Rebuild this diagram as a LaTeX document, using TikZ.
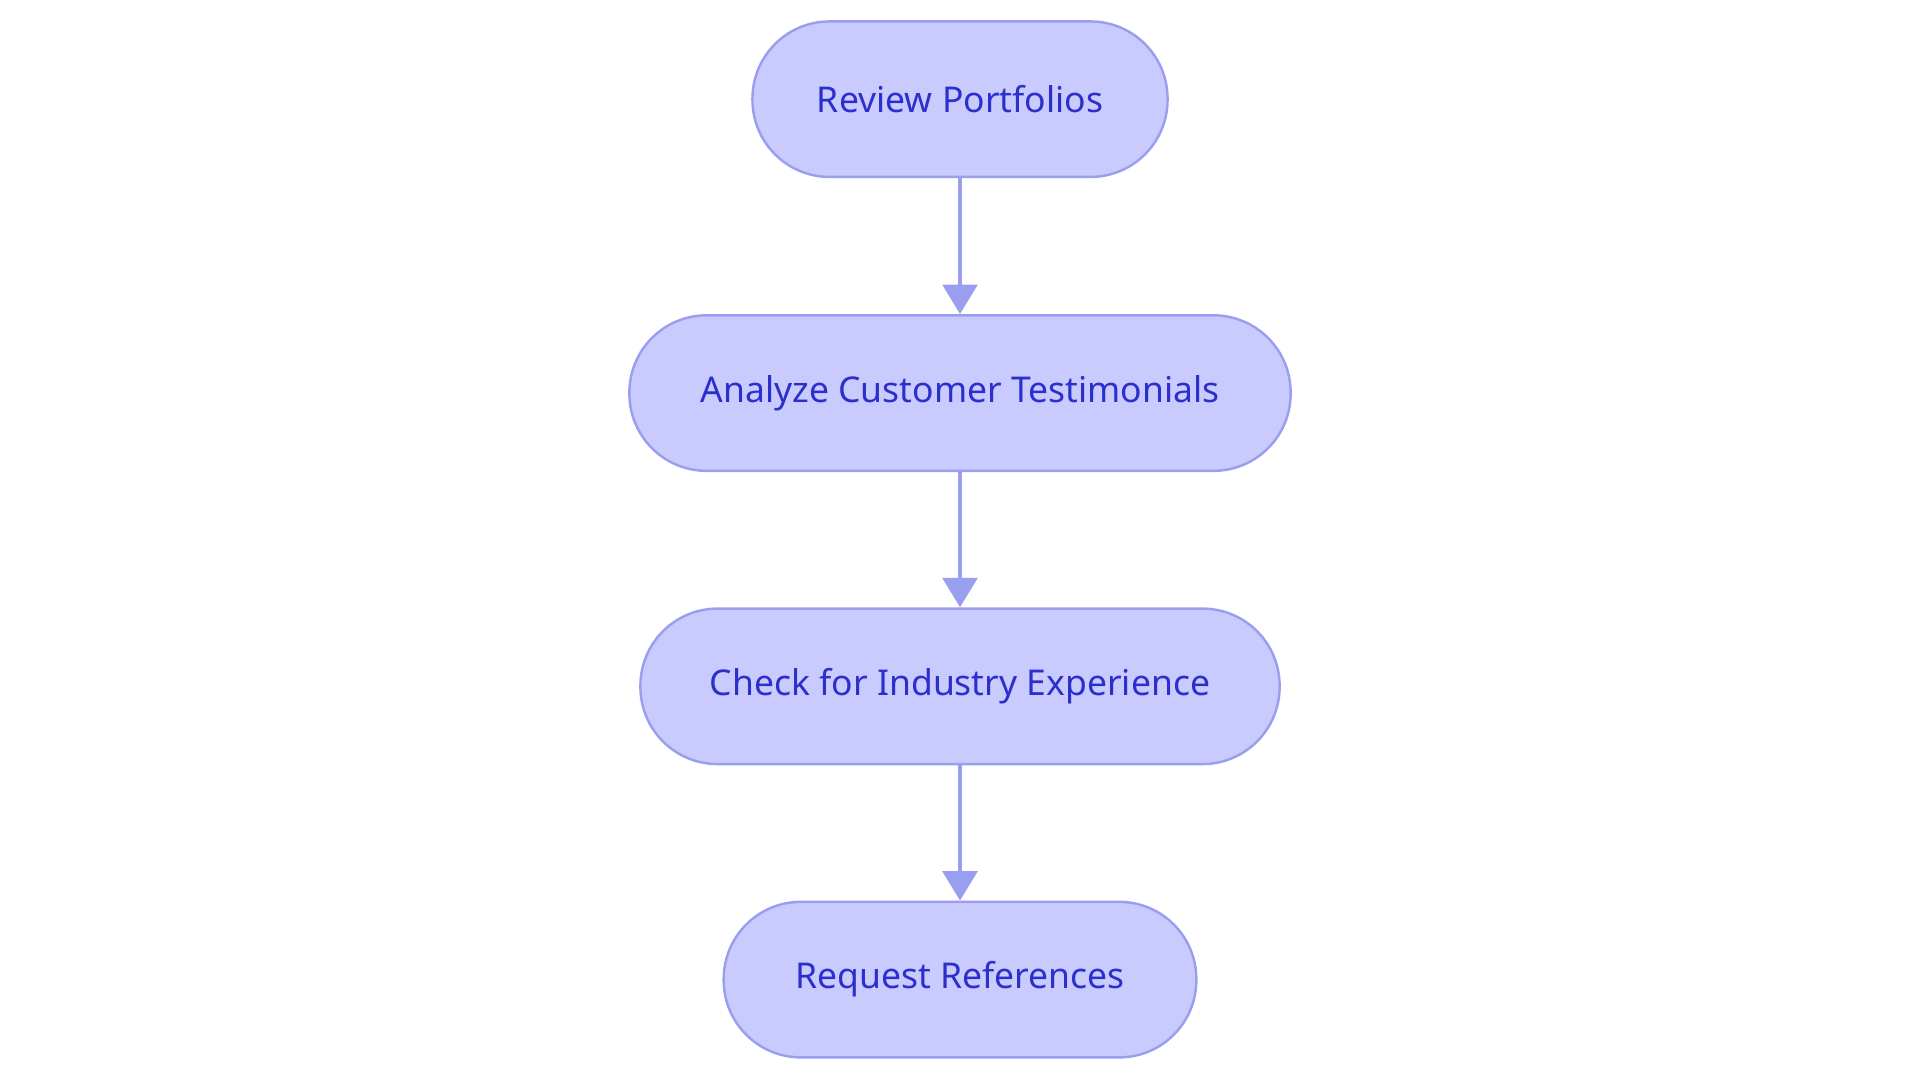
\documentclass[tikz,border=0pt]{standalone}
\usepackage{fontspec}
\setmainfont{Noto Sans}
\usetikzlibrary{arrows.meta}
\definecolor{fillc}{HTML}{C9CBFE}
\definecolor{linec}{HTML}{9A9EEE}
\definecolor{textc}{HTML}{2B2FCC}
\begin{document}
\begin{tikzpicture}[x=0.5pt,y=-0.5pt,
 box/.style={draw=linec,fill=fillc,line width=1pt,rounded corners=31.5pt,text=textc,font=\fontsize{14.5}{17}\selectfont},
 arr/.style={draw=linec,line width=2pt,-{Triangle[length=12pt,width=14pt]}}]
\useasboundingbox (0,0) rectangle (1568,884.4);
\node[box,minimum width=339pt/2,minimum height=63.5pt] (a) at (784,81) {Review Portfolios};
\node[box,minimum width=540pt/2,minimum height=63.5pt] (b) at (784,321) {Analyze Customer Testimonials};
\node[box,minimum width=522pt/2,minimum height=63.5pt] (c) at (784,560.5) {Check for Industry Experience};
\node[box,minimum width=386pt/2,minimum height=63.5pt] (d) at (784,800) {Request References};
\draw[arr] (a) -- (b);
\draw[arr] (b) -- (c);
\draw[arr] (c) -- (d);
\end{tikzpicture}
\end{document}
